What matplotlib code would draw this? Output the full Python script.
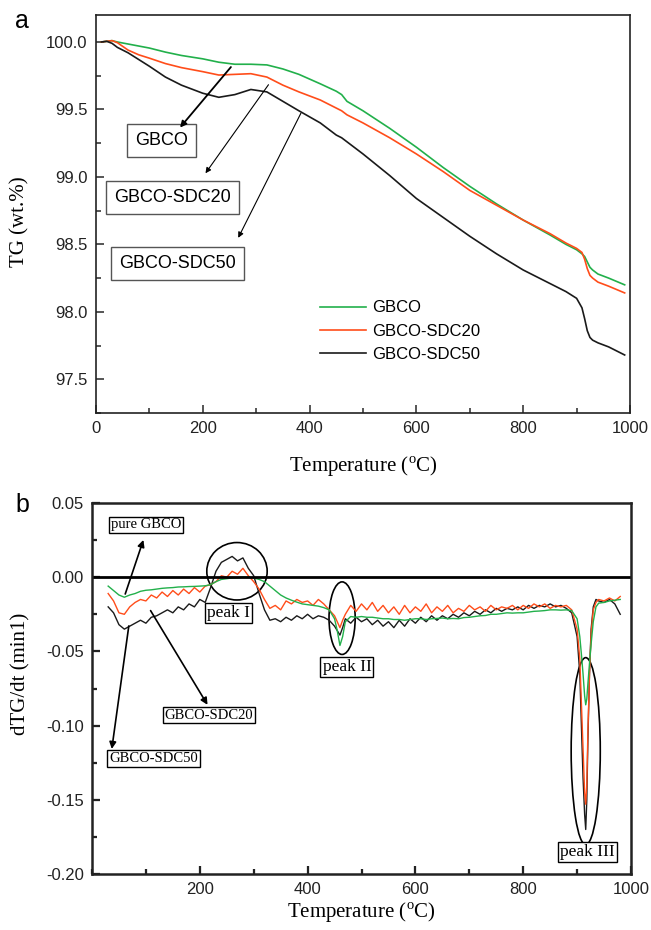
import matplotlib
matplotlib.use("Agg")
import matplotlib.pyplot as plt
from matplotlib.patches import Ellipse
from matplotlib.ticker import MultipleLocator

# ---- panel a: TG curves ----
t_tg = [10, 20, 30, 40, 60, 80, 100, 130, 160, 200, 230, 260, 290, 320, 350, 380,
        420, 450, 460, 470, 500, 550, 600, 650, 700, 750, 800, 850, 880, 900, 910,
        915, 920, 925, 930, 940, 960, 990]
tg_gbco = [100.0, 100.005, 100.01, 100.0, 99.985, 99.97, 99.955, 99.925, 99.90, 99.875,
           99.85, 99.835, 99.835, 99.83, 99.80, 99.76, 99.69, 99.635, 99.61, 99.56,
           99.49, 99.36, 99.22, 99.07, 98.93, 98.80, 98.68, 98.57, 98.50, 98.46, 98.43,
           98.41, 98.37, 98.33, 98.31, 98.28, 98.25, 98.20]
tg_sdc20 = [100.0, 100.005, 100.01, 99.995, 99.94, 99.905, 99.88, 99.84, 99.81, 99.78,
            99.755, 99.76, 99.765, 99.74, 99.68, 99.63, 99.57, 99.51, 99.49, 99.46,
            99.40, 99.29, 99.17, 99.04, 98.90, 98.79, 98.68, 98.58, 98.51, 98.47, 98.44,
            98.39, 98.32, 98.27, 98.25, 98.22, 98.19, 98.14]
tg_sdc50 = [100.0, 100.005, 99.99, 99.96, 99.92, 99.87, 99.82, 99.74, 99.68, 99.62,
            99.59, 99.61, 99.648, 99.63, 99.56, 99.49, 99.40, 99.31, 99.29, 99.26,
            99.17, 99.01, 98.84, 98.70, 98.56, 98.43, 98.31, 98.21, 98.15, 98.10, 98.03,
            97.95, 97.86, 97.81, 97.79, 97.77, 97.74, 97.68]

# ---- panel b: dTG/dt curves ----
t_dtg = [30, 40, 50, 60, 70, 80, 90, 100, 110, 120, 130, 140, 150, 160, 170, 180, 190,
         200, 210, 220, 230, 240, 250, 260, 270, 280, 290, 300, 310, 320, 330, 340, 350,
         360, 370, 380, 390, 400, 410, 420, 430, 440, 450, 455, 460, 465, 470, 480, 490,
         500, 510, 520, 530, 540, 550, 560, 570, 580, 590, 600, 610, 620, 630, 640, 650,
         660, 670, 680, 690, 700, 710, 720, 730, 740, 750, 760, 770, 780, 790, 800, 810,
         820, 830, 840, 850, 860, 870, 880, 890, 900, 905, 908, 911, 914, 916, 918, 920,
         923, 926, 930, 935, 940, 950, 960, 970, 980]
dtg_gbco = [-0.006, -0.009, -0.012, -0.0135, -0.012, -0.011, -0.0095, -0.0088, -0.0085,
            -0.008, -0.0075, -0.0072, -0.007, -0.0066, -0.0065, -0.0063, -0.0062, -0.006,
            -0.0058, -0.005, -0.003, -0.0015, -0.001, -0.0005, -0.0003, 0.0, 0.0, -0.0005,
            -0.0015, -0.003, -0.006, -0.009, -0.012, -0.014, -0.0155, -0.0168, -0.018,
            -0.0185, -0.019, -0.0195, -0.0205, -0.022, -0.028, -0.036, -0.046, -0.040,
            -0.030, -0.0265, -0.027, -0.0265, -0.027, -0.027, -0.0275, -0.028, -0.028,
            -0.0285, -0.0285, -0.029, -0.0285, -0.028, -0.028, -0.0285, -0.028, -0.0278,
            -0.0275, -0.028, -0.0278, -0.028, -0.0272, -0.027, -0.0265, -0.026, -0.0258,
            -0.025, -0.025, -0.0245, -0.024, -0.0242, -0.024, -0.024, -0.0235, -0.023,
            -0.0228, -0.0225, -0.022, -0.022, -0.0222, -0.022, -0.0225, -0.028, -0.040,
            -0.052, -0.065, -0.080, -0.086, -0.082, -0.072, -0.058, -0.045, -0.030,
            -0.020, -0.0175, -0.017, -0.016, -0.0155, -0.015]
dtg_sdc20 = [-0.011, -0.016, -0.024, -0.025, -0.020, -0.017, -0.015, -0.016, -0.012,
             -0.014, -0.010, -0.013, -0.009, -0.012, -0.008, -0.011, -0.007, -0.010,
             -0.006, -0.005, -0.003, 0.001, 0.000, 0.004, 0.002, 0.006, 0.001, -0.003,
             -0.008, -0.015, -0.021, -0.019, -0.022, -0.016, -0.018, -0.015, -0.017,
             -0.016, -0.019, -0.015, -0.018, -0.022, -0.026, -0.030, -0.034, -0.029,
             -0.025, -0.019, -0.023, -0.018, -0.022, -0.017, -0.023, -0.019, -0.024,
             -0.020, -0.025, -0.019, -0.024, -0.020, -0.023, -0.018, -0.024, -0.020,
             -0.023, -0.019, -0.024, -0.021, -0.023, -0.019, -0.022, -0.020, -0.023,
             -0.019, -0.022, -0.020, -0.021, -0.019, -0.022, -0.019, -0.021, -0.018,
             -0.020, -0.018, -0.021, -0.019, -0.020, -0.019, -0.022, -0.035, -0.055,
             -0.085, -0.115, -0.145, -0.153, -0.140, -0.105, -0.065, -0.038, -0.022,
             -0.017, -0.015, -0.016, -0.014, -0.016, -0.013]
dtg_sdc50 = [-0.020, -0.024, -0.032, -0.035, -0.033, -0.031, -0.029, -0.031, -0.027,
             -0.026, -0.024, -0.022, -0.024, -0.020, -0.022, -0.018, -0.020, -0.015,
             -0.017, -0.007, 0.004, 0.010, 0.012, 0.014, 0.011, 0.013, 0.006, 0.001,
             -0.011, -0.022, -0.029, -0.028, -0.030, -0.027, -0.029, -0.026, -0.028,
             -0.025, -0.028, -0.026, -0.027, -0.029, -0.033, -0.036, -0.039, -0.034,
             -0.028, -0.031, -0.027, -0.030, -0.028, -0.032, -0.029, -0.033, -0.030,
             -0.034, -0.029, -0.033, -0.028, -0.031, -0.027, -0.030, -0.026, -0.029,
             -0.026, -0.028, -0.025, -0.027, -0.024, -0.026, -0.023, -0.025, -0.022,
             -0.024, -0.021, -0.023, -0.021, -0.022, -0.020, -0.022, -0.019, -0.021,
             -0.019, -0.020, -0.018, -0.020, -0.019, -0.021, -0.024, -0.040, -0.065,
             -0.100, -0.135, -0.160, -0.170, -0.150, -0.110, -0.065, -0.035, -0.020,
             -0.015, -0.016, -0.017, -0.015, -0.018, -0.025]

labels = ["GBCO", "GBCO-SDC20", "GBCO-SDC50"]
colors = ["#22b04b", "#ff4d1a", "#1a1a1a"]

plt.rcParams["font.family"] = ["Liberation Sans", "DejaVu Sans"]
plt.rcParams["axes.unicode_minus"] = False
plt.rcParams["mathtext.fontset"] = "custom"
plt.rcParams["mathtext.rm"] = "Liberation Serif"
serif = ["Liberation Serif", "DejaVu Serif"]

fig = plt.figure(figsize=(6.51, 9.3), dpi=100)
ax1 = fig.add_axes([96 / 651, 1 - 413 / 930, 534 / 651, 398 / 930])
ax2 = fig.add_axes([92 / 651, 1 - 874 / 930, 539 / 651, 371 / 930])

# panel a
for ys, lab, c in zip([tg_gbco, tg_sdc20, tg_sdc50], labels, colors):
    ax1.plot(t_tg, ys, color=c, lw=1.2, label=lab)
ax1.set_xlim(0, 1000)
ax1.set_ylim(97.25, 100.2)
ax1.xaxis.set_major_locator(MultipleLocator(200))
ax1.xaxis.set_minor_locator(MultipleLocator(100))
ax1.yaxis.set_major_locator(MultipleLocator(0.5))
ax1.yaxis.set_minor_locator(MultipleLocator(0.25))
ax1.yaxis.set_major_formatter(matplotlib.ticker.FormatStrFormatter("%.1f"))
ax1.set_xlabel("Temperature ($^{\\mathrm{o}}$C)", family=serif, fontsize=15, labelpad=13)
ax1.set_ylabel("TG (wt.%)", family=serif, fontsize=15)
ax1.yaxis.set_label_coords(-0.125, 0.48)
ax1.legend(loc="upper left", bbox_to_anchor=(0.419, 0.283), frameon=False, fontsize=12,
           handlelength=2.75, handletextpad=0.42, labelspacing=0.5,
           borderpad=0, borderaxespad=0)

box_a = dict(boxstyle="square,pad=0.45", fc="white", ec="#555555", lw=1)
ax1.text(122, 99.27, "GBCO", fontsize=13, ha="center", va="center", bbox=box_a)
ax1.text(144, 98.85, "GBCO-SDC20", fontsize=13, ha="center", va="center", bbox=box_a)
ax1.text(152, 98.36, "GBCO-SDC50", fontsize=13, ha="center", va="center", bbox=box_a)
ax1.annotate("", xy=(154, 99.35), xytext=(256, 99.83),
             arrowprops=dict(arrowstyle="-|>", color="k", lw=1.3, mutation_scale=9))
ax1.annotate("", xy=(202, 99.01), xytext=(326, 99.70),
             arrowprops=dict(arrowstyle="-|>", color="k", lw=0.8, mutation_scale=8))
ax1.annotate("", xy=(264, 98.53), xytext=(386, 99.49),
             arrowprops=dict(arrowstyle="-|>", color="k", lw=0.8, mutation_scale=8))

# panel b
for ys, c in zip([dtg_sdc50, dtg_sdc20, dtg_gbco], colors[::-1]):
    ax2.plot(t_dtg, ys, color=c, lw=1.0)
ax2.axhline(0, color="k", lw=2)
ax2.set_xlim(0, 1000)
ax2.set_ylim(-0.2, 0.05)
ax2.set_xticks([200, 400, 600, 800, 1000])
ax2.xaxis.set_minor_locator(MultipleLocator(100))
ax2.yaxis.set_major_locator(MultipleLocator(0.05))
ax2.yaxis.set_minor_locator(MultipleLocator(0.025))
ax2.yaxis.set_major_formatter(matplotlib.ticker.FormatStrFormatter("%.2f"))
ax2.set_xlabel("Temperature ($^{\\mathrm{o}}$C)", family=serif, fontsize=15, labelpad=2)
ax2.set_ylabel("dTG/dt (min1)", family=serif, fontsize=15)
ax2.yaxis.set_label_coords(-0.114, 0.54)

for e in [(269, 0.004, 112, 0.0387), (464, -0.0276, 48.5, 0.0489), (916, -0.1172, 54, 0.126)]:
    ax2.add_patch(Ellipse((e[0], e[1]), e[2], e[3], fill=False, ec="k", lw=1.2))

box_b = dict(boxstyle="square,pad=0.12", fc="white", ec="k", lw=1)
ax2.text(100, 0.0353, "pure GBCO", family=serif, fontsize=10.5, ha="center", va="center", bbox=box_b)
ax2.text(217, -0.093, "GBCO-SDC20", family=serif, fontsize=10.5, ha="center", va="center", bbox=box_b)
ax2.text(114, -0.1222, "GBCO-SDC50", family=serif, fontsize=10.5, ha="center", va="center", bbox=box_b)
ax2.text(253, -0.0239, "peak I", family=serif, fontsize=12.5, ha="center", va="center", bbox=box_b)
ax2.text(473, -0.0603, "peak II", family=serif, fontsize=12.5, ha="center", va="center", bbox=box_b)
ax2.text(919, -0.1853, "peak III", family=serif, fontsize=12.5, ha="center", va="center", bbox=box_b)
arr_b = dict(arrowstyle="-|>", color="k", lw=1.2, mutation_scale=10)
ax2.annotate("", xy=(97, 0.0269), xytext=(60, -0.0131), arrowprops=arr_b)
ax2.annotate("", xy=(217, -0.0876), xytext=(106, -0.0209), arrowprops=arr_b)
ax2.annotate("", xy=(36, -0.1176), xytext=(69, -0.031), arrowprops=arr_b)

for ax, sw in [(ax1, 1.2), (ax2, 1.8)]:
    for s in ax.spines.values():
        s.set_linewidth(sw)
        s.set_color("#222222")
    ax.tick_params(which="both", direction="in", top=False, right=False,
                   labelsize=12, colors="#222222", pad=6, width=sw * 0.9)
    ax.tick_params(which="major", length=6)
    ax.tick_params(which="minor", length=3.5)

fig.text(15 / 651, 1 - 28 / 930, "a", fontsize=18)
fig.text(15 / 651, 1 - 512 / 930, "b", fontsize=18)

fig.savefig("out.png", dpi=100)
